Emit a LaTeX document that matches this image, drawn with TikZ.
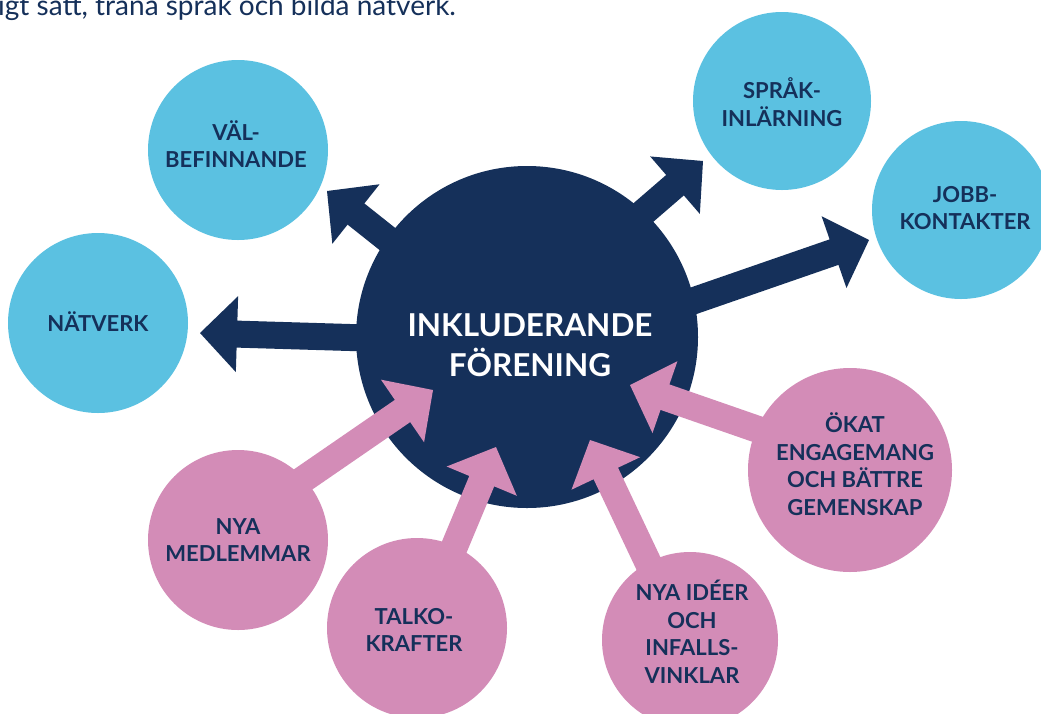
\documentclass[tikz,border=0pt]{standalone}
\usepackage{fontspec}
\setmainfont{Lato}
\usetikzlibrary{calc}
\definecolor{navy}{HTML}{15305A}
\definecolor{lblue}{HTML}{5BC1E1}
\definecolor{rosa}{HTML}{D38CB7}
\newcommand{\blkarrow}[3]{%
  \path ($(#2)!37pt!(#1)$) coordinate (tmpb);
  \fill[#3] ($(#1)!13.5pt!90:(#2)$) -- ($(tmpb)!13.5pt!90:(#2)$) -- ($(tmpb)!38pt!90:(#2)$) -- (#2)
    -- ($(tmpb)!38pt!-90:(#2)$) -- ($(tmpb)!13.5pt!-90:(#2)$) -- ($(#1)!13.5pt!-90:(#2)$) -- cycle;
}
\begin{document}
\begin{tikzpicture}[x=1pt,y=-1pt,
  bubble/.style={circle,inner sep=0pt,minimum size=#1},
  lab/.style={text=navy,font=\bfseries\fontsize{22}{27.5}\selectfont,align=center,inner sep=0pt},
  mainlab/.style={text=white,font=\bfseries\fontsize{31.5}{40}\selectfont,align=center,inner sep=0pt}]
\useasboundingbox (0,0) rectangle (1041,713);
\clip (0,0) rectangle (1041,713);
\fill[white] (0,0) rectangle (1041,713);

\node[anchor=base west,text=navy,font=\fontsize{28}{32}\selectfont,inner sep=0pt] (intro) at (-2,15) {igt sätt, träna språk och bilda nätverk.};

% circles
\node[bubble=180pt,fill=lblue] (val) at (238,150) {};
\node[bubble=180pt,fill=lblue] (nat) at (98,323) {};
\node[bubble=178pt,fill=lblue] (sprak) at (782,101) {};
\node[bubble=178pt,fill=lblue] (jobb) at (961,210) {};
\node[bubble=180pt,fill=rosa] (medl) at (238,540) {};
\node[bubble=180pt,fill=rosa] (talko) at (417,628) {};
\node[bubble=176pt,fill=rosa] (ideer) at (690,640) {};
\node[bubble=204pt,fill=rosa] (okat) at (850,470) {};
\node[bubble=342pt,fill=navy] (inkl) at (527,337) {};

% arrow end points
\coordinate (a1s) at (400,339); \coordinate (a1t) at (200,333);
\coordinate (a2s) at (434,276); \coordinate (a2t) at (327,191);
\coordinate (a3s) at (600,250); \coordinate (a3t) at (703,161);
\coordinate (a4s) at (664,311); \coordinate (a4t) at (869,240);
\coordinate (b1s) at (279,496); \coordinate (b1t) at (433,390);
\coordinate (b2s) at (443,574); \coordinate (b2t) at (496,447);
\coordinate (b3s) at (661,590); \coordinate (b3t) at (590,440);
\coordinate (b4s) at (797,443); \coordinate (b4t) at (630,385);

\blkarrow{a1s}{a1t}{navy}
\blkarrow{a2s}{a2t}{navy}
\blkarrow{a3s}{a3t}{navy}
\blkarrow{a4s}{a4t}{navy}
\blkarrow{b1s}{b1t}{rosa}
\blkarrow{b2s}{b2t}{rosa}
\blkarrow{b3s}{b3t}{rosa}
\blkarrow{b4s}{b4t}{rosa}

% labels
\node[mainlab] (tinkl) at (530,345) {INKLUDERANDE\\FÖRENING};
\node[lab] (tval) at (236,144) {VÄL-\\BEFINNANDE};
\node[lab] (tnat) at (98,322) {NÄTVERK};
\node[lab] (tsprak) at (782,102) {SPRÅK-\\INLÄRNING};
\node[lab] (tjobb) at (965,208) {JOBB-\\KONTAKTER};
\node[lab] (tmedl) at (238,540) {NYA\\MEDLEMMAR};
\node[lab] (ttalko) at (414,630) {TALKO-\\KRAFTER};
\node[lab] (tideer) at (692,632) {NYA IDÉER\\OCH\\INFALLS-\\VINKLAR};
\node[lab] (tokat) at (855,464) {ÖKAT\\ENGAGEMANG\\OCH BÄTTRE\\GEMENSKAP};
\end{tikzpicture}
\end{document}
